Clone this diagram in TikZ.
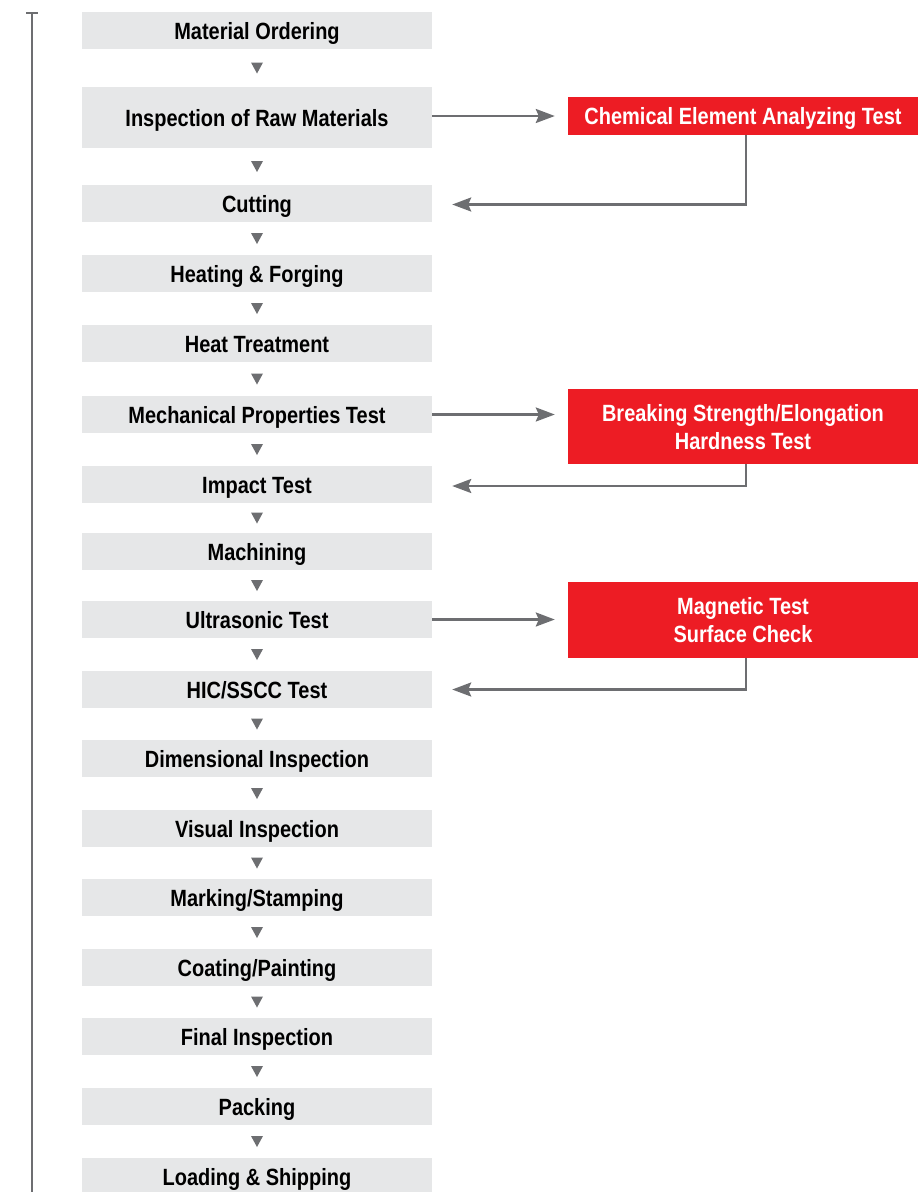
\documentclass[tikz,border=0pt]{standalone}
\usepackage{fontspec}
\setmainfont{Liberation Sans}[FakeStretch=0.85]
\usetikzlibrary{calc,arrows.meta}
\definecolor{boxgray}{HTML}{E6E7E8}
\definecolor{boxred}{HTML}{ED1C24}
\definecolor{linegray}{HTML}{6D6E71}
\begin{document}
\begin{tikzpicture}[x=1pt,y=-1pt,
  stepbox/.style={fill=boxgray, minimum width=350pt, minimum height=37pt, inner sep=0pt,
    text height=17pt, text depth=0pt, font=\fontsize{23.5pt}{28pt}\selectfont\bfseries, text=black},
  testbox/.style={fill=boxred, minimum width=350pt, inner sep=0pt, align=center,
    text height=17pt, text depth=0pt,
    font=\fontsize{23.5pt}{28pt}\selectfont\bfseries, text=white},
  twoline/.style={text height=45pt, text depth=0pt},
  arr/.style={draw=linegray, line width=2.5pt, -{Stealth[length=19pt,width=14pt,inset=3pt]}},
  tri/.style={fill=linegray}]
\useasboundingbox (0,0) rectangle (922,1192);

% left vertical line
\coordinate (vtop) at (32,13);
\coordinate (vbot) at (32,1192);
\draw[linegray, line width=2.4pt] (vtop) -- (vbot);
\draw[linegray, line width=2pt] ([xshift=-6pt]vtop) -- ([xshift=6pt]vtop);

% process steps
\node[stepbox] (n1) at (257,30.5) {Material Ordering};
\node[stepbox, minimum height=61pt] (n2) at (257,117.5) {Inspection of Raw Materials};
\node[stepbox] (n3) at (257,203.5) {Cutting};
\node[stepbox] (n4) at (257,273.5) {Heating \& Forging};
\node[stepbox] (n5) at (257,343.5) {Heat Treatment};
\node[stepbox] (n6) at (257,414.5) {Mechanical Properties Test};
\node[stepbox] (n7) at (257,484.5) {Impact Test};
\node[stepbox] (n8) at (257,551.5) {Machining};
\node[stepbox] (n9) at (257,619.5) {Ultrasonic Test};
\node[stepbox] (n10) at (257,689.5) {HIC/SSCC Test};
\node[stepbox] (n11) at (257,758.5) {Dimensional Inspection};
\node[stepbox] (n12) at (257,828.5) {Visual Inspection};
\node[stepbox] (n13) at (257,897.5) {Marking/Stamping};
\node[stepbox] (n14) at (257,967.5) {Coating/Painting};
\node[stepbox] (n15) at (257,1036.5) {Final Inspection};
\node[stepbox] (n16) at (257,1106.5) {Packing};
\node[stepbox] (n17) at (257,1176.5) {Loading \& Shipping};

% down triangles
\foreach \a/\b in {n1/n2,n2/n3,n3/n4,n4/n5,n5/n6,n6/n7,n7/n8,n8/n9,n9/n10,n10/n11,n11/n12,n12/n13,n13/n14,n14/n15,n15/n16,n16/n17}
  \fill[tri] ($(\a.south)!0.5!(\b.north)$) ++(-6,-5.5) -- ++(12,0) -- ++(-6,11) -- cycle;

% test boxes
\node[testbox, minimum height=38pt] (t1) at (743,116) {Chemical Element Analyzing Test};
\node[testbox, twoline, minimum height=75pt] (t2) at (743,426.5) {Breaking Strength/Elongation\\Hardness Test};
\node[testbox, twoline, minimum height=76pt] (t3) at (743,620) {Magnetic Test\\Surface Check};

% connectors
\draw[arr] (n2.east |- t1.west) -- ([xshift=-13pt]t1.west);
\draw[arr] ([xshift=3pt]t1.south) |- ([xshift=20pt,yshift=-1pt]n3.east);

\draw[arr] (n6.east) -- ([xshift=-13pt]t2.west |- n6.east);
\draw[arr] ([xshift=3pt]t2.south) |- ([xshift=20pt,yshift=-1.5pt]n7.east);

\draw[arr] (n9.east) -- ([xshift=-13pt]t3.west |- n9.east);
\draw[arr] ([xshift=3pt]t3.south) |- ([xshift=20pt]n10.east);
\end{tikzpicture}
\end{document}
